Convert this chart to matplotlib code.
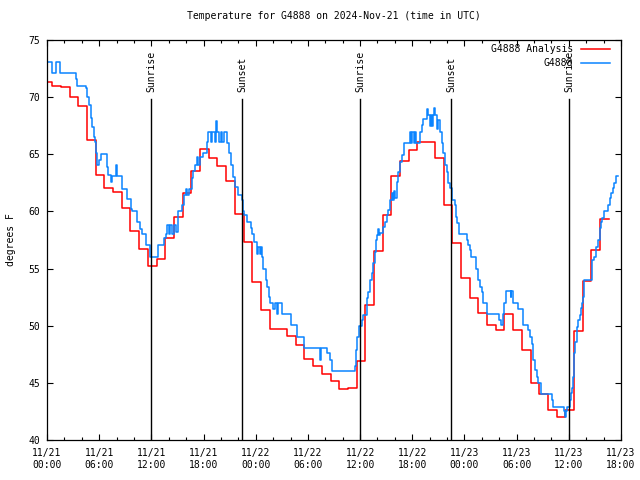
import matplotlib
matplotlib.use("Agg")
from matplotlib import pyplot as plt
import matplotlib.dates as mdates
import pandas as pd

plt.rcParams['font.family'] = ['DejaVu Sans Mono']

# hourly analysis values, each one starting at hh:36 (first at 11/20 23:36)
red_start = "2024-11-20 23:36"
red_temp = [71.3, 71.0, 70.9, 70.0, 69.2, 66.25, 63.2, 62.05, 61.7, 60.3,
            58.3, 56.7, 55.2, 55.8, 57.7, 59.5, 61.65, 63.5, 65.5, 64.7,
            64.0, 62.7, 59.8, 57.3, 53.8, 51.4, 49.75, 49.75, 49.1, 48.3,
            47.1, 46.5, 45.75, 45.2, 44.5, 44.55, 46.9, 51.8, 56.5, 59.7,
            63.1, 64.45, 65.4, 66.1, 66.05, 64.65, 60.6, 57.2, 54.2, 52.4,
            51.1, 50.1, 49.6, 51.0, 49.6, 47.9, 45.0, 44.05, 42.6, 42.0,
            42.6, 49.5, 53.9, 56.6, 59.35, 59.35]

# station observations: hours since 11/21 00:00 and temperature
blue_hours = [0.0, 0.61, 1.07, 1.49, 3.3, 3.48, 4.45, 4.63, 4.83, 5.02,
              5.2, 5.4, 5.5, 5.6, 5.78, 6.0, 6.17, 6.86, 7.01, 7.32,
              7.5, 7.9, 8.01, 8.59, 9.16, 9.62, 9.8, 10.31, 10.69, 10.89,
              11.34, 11.84, 12.72, 13.48, 13.64, 13.76, 14.0, 14.2, 14.4, 14.6,
              14.8, 15.09, 15.55, 15.78, 16.0, 16.15, 16.32, 16.63, 16.82, 17.01,
              17.2, 17.4, 17.6, 17.97, 18.36, 18.54, 18.8, 19.0, 19.3, 19.45,
              19.55, 19.8, 19.95, 20.15, 20.3, 20.66, 20.92, 21.15, 21.41, 21.61,
              21.99, 22.38, 22.49, 22.64, 22.95, 23.41, 23.6, 23.83, 24.1, 24.2,
              24.3, 24.45, 24.55, 24.68, 24.86, 25.14, 25.32, 25.52, 25.63, 26.01,
              26.2, 26.4, 26.59, 26.98, 28.01, 28.7, 29.57, 31.38, 31.48, 32.22,
              32.53, 32.79, 35.4, 35.52, 35.67, 35.86, 36.17, 36.36, 36.75, 36.93,
              37.13, 37.32, 37.5, 37.7, 37.78, 37.97, 38.1, 38.2, 38.28, 38.66,
              38.85, 39.05, 39.23, 39.43, 39.62, 39.8, 39.9, 40.0, 40.2, 40.38,
              40.57, 40.77, 41.07, 41.72, 41.85, 42.0, 42.15, 42.3, 42.45, 42.87,
              43.07, 43.25, 43.64, 43.75, 43.85, 44.0, 44.1, 44.3, 44.4, 44.5,
              44.65, 44.8, 44.95, 45.17, 45.37, 45.55, 45.75, 45.94, 46.13, 46.32,
              46.52, 46.9, 47.01, 47.2, 47.36, 48.24, 48.36, 48.62, 48.81, 49.28,
              49.57, 49.77, 49.97, 50.15, 50.61, 51.95, 52.15, 52.45, 52.56, 52.72,
              53.3, 53.4, 53.6, 54.1, 54.75, 55.32, 55.52, 55.71, 55.9, 56.09,
              56.29, 56.47, 56.78, 58.01, 58.2, 59.43, 59.54, 59.65, 59.74, 60.11,
              60.23, 60.38, 60.49, 60.61, 60.69, 60.89, 61.07, 61.26, 61.38, 61.49,
              61.64, 61.76, 62.61, 62.72, 62.9, 63.18, 63.37, 63.56, 63.68, 63.87,
              64.02, 64.52, 64.71, 64.83, 65.1, 65.21, 65.38, 65.68]
blue_temp = [73.05, 72.1, 73.05, 72.1, 71.6, 71.0, 70.77, 70.04, 69.3, 68.15,
             67.4, 66.5, 66.1, 65.1, 64.06, 64.5, 65.0, 63.9, 63.2, 62.6,
             63.1, 64.06, 63.1, 62.0, 61.1, 60.2, 60.0, 59.1, 58.5, 58.0,
             57.06, 56.04, 57.04, 57.65, 58.0, 58.8, 58.0, 58.8, 58.0, 58.8,
             58.2, 60.0, 60.56, 61.4, 62.0, 61.4, 62.0, 62.9, 63.5, 64.06,
             64.8, 64.06, 64.8, 65.09, 66.1, 66.98, 66.1, 66.98, 66.1, 67.9,
             66.98, 66.1, 66.98, 66.1, 66.98, 65.96, 65.1, 64.06, 63.04, 62.17,
             61.44, 61.0, 60.07, 59.69, 59.05, 58.58, 58.0, 57.35, 56.9, 56.3,
             56.9, 56.3, 56.9, 56.04, 55.0, 54.0, 53.42, 52.54, 51.96, 51.5,
             51.96, 51.0, 51.96, 51.0, 50.07, 49.04, 48.03, 47.0, 48.03, 47.6,
             47.0, 46.04, 46.5, 47.9, 49.04, 50.0, 50.5, 50.94, 52.4, 52.98,
             54.0, 54.59, 55.46, 56.48, 57.5, 57.94, 58.5, 57.94, 58.09, 58.67,
             59.1, 59.69, 60.13, 61.0, 61.59, 61.0, 61.8, 61.2, 62.6, 63.48,
             64.35, 64.94, 66.0, 66.98, 66.0, 66.98, 66.0, 66.98, 66.0, 66.98,
             67.56, 68.06, 68.44, 69.0, 68.44, 67.5, 68.44, 67.5, 68.44, 69.05,
             68.44, 67.2, 68.0, 66.98, 65.96, 65.09, 64.06, 63.48, 62.46, 62.03,
             61.0, 60.56, 59.54, 58.96, 58.03, 57.5, 57.06, 56.63, 56.04, 55.0,
             54.0, 53.42, 52.98, 51.96, 51.0, 50.5, 50.07, 51.0, 51.96, 53.04,
             52.54, 53.04, 51.96, 51.5, 50.07, 49.63, 49.04, 48.4, 47.0, 46.13,
             45.55, 45.02, 44.03, 43.5, 42.92, 42.5, 42.0, 42.5, 42.92, 43.5,
             44.09, 44.53, 45.55, 47.6, 48.6, 49.92, 50.5, 50.94, 51.53, 51.96,
             52.54, 54.0, 54.73, 55.75, 56.04, 56.92, 57.5, 58.53, 59.1, 59.4,
             60.0, 60.56, 61.15, 61.59, 62.03, 62.46, 63.1, 63.1]

sun_times = ["2024-11-21 12:00", "2024-11-21 22:27", "2024-11-22 12:02",
             "2024-11-22 22:28", "2024-11-23 12:03"]
sun_labels = ["Sunrise", "Sunset", "Sunrise", "Sunset", "Sunrise"]

t0 = pd.Timestamp("2024-11-21 00:00")
red_t = pd.date_range(red_start, periods=len(red_temp), freq="h")
blue_t = t0 + pd.to_timedelta(blue_hours, unit="h")

fig = plt.figure(figsize=(6.4, 4.8), dpi=100)
ax = fig.add_axes([47 / 640, 40 / 480, 574 / 640, 400 / 480])

ax.plot(red_t, red_temp, drawstyle="steps-post", color="#ff0000", lw=1.1,
        label="G4888 Analysis")
ax.plot(blue_t, blue_temp, drawstyle="steps-post", color="#0a84ff", lw=1.1,
        label="G4888")

for st, lab in zip(sun_times, sun_labels):
    ts = pd.Timestamp(st)
    ax.plot([ts, ts], [40, 69.85], color="black", lw=1)
    ax.text(ts, 70.45, lab, rotation=90, ha="center", va="bottom", fontsize=7)

ax.set_xlim(t0, t0 + pd.Timedelta(hours=66))
ax.set_ylim(40, 75)
ax.set_yticks(range(40, 76, 5))
ax.xaxis.set_major_locator(mdates.HourLocator(byhour=[0, 6, 12, 18]))
ax.xaxis.set_minor_locator(mdates.HourLocator(interval=2))
ax.xaxis.set_major_formatter(mdates.DateFormatter("%m/%d\n%H:%M"))
ax.tick_params(which="both", direction="in", top=True, right=True, labelsize=7)
ax.tick_params(which="major", length=4.5, width=0.8)
ax.tick_params(which="minor", length=2.5, width=0.8)
ax.tick_params(axis="x", pad=6)
ax.tick_params(axis="y", pad=5)
for sp in ax.spines.values():
    sp.set_linewidth(0.9)

ax.set_title("Temperature for G4888 on 2024-Nov-21 (time in UTC)", fontsize=7, pad=15)
ax.set_ylabel("degrees F", fontsize=7, labelpad=9)

ax.legend(loc="upper right", bbox_to_anchor=(0.981, 0.99), frameon=False,
          markerfirst=False, fontsize=7, handlelength=3.0, handletextpad=0.8,
          borderaxespad=0, borderpad=0, labelspacing=0.45)

fig.savefig("out.png", dpi=100)
